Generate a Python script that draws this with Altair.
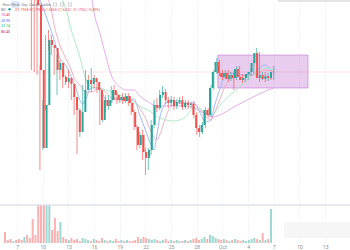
import altair as alt
import pandas as pd

START = pd.Timestamp("2021-09-05 00:00")
STEP = pd.Timedelta(hours=8)

# ---- candle data (price in cents) ----
open_c = [430, 420, 405, 380, 390, 370, 350, 330, 340, 310, 290,
          270, 230, 215, 150, 72, 115, 180, 175, 172, 150,
          157, 143, 138, 142, 136, 123, 110, 88, 108, 130,
          140, 136, 142, 138, 130, 100, 120, 114, 120, 130,
          125, 120, 123, 119, 124, 117, 108, 93, 75, 85,
          68, 62, 70, 95, 115, 112, 125, 128, 120, 117,
          120, 114, 118, 120, 113, 117, 115, 116, 105, 92,
          88, 95, 110, 105, 132, 148, 158, 147, 143, 147,
          141, 145, 142, 151, 143, 140, 142, 146, 148, 157,
          167, 142, 145, 141, 144, 142]
close_c = [420, 405, 380, 390, 370, 350, 330, 340, 310, 290, 270,
           230, 215, 150, 72, 115, 180, 175, 172, 150, 157,
           143, 138, 142, 136, 123, 110, 88, 108, 130, 140,
           136, 142, 138, 130, 100, 120, 114, 120, 130, 125,
           120, 123, 119, 124, 117, 108, 93, 75, 85, 68,
           62, 70, 95, 115, 112, 125, 128, 120, 117, 120,
           114, 118, 120, 113, 117, 115, 116, 105, 92, 88,
           95, 110, 105, 132, 148, 158, 147, 143, 147, 141,
           145, 142, 151, 143, 140, 142, 146, 148, 157, 167,
           142, 145, 141, 144, 142, 148]
high_c = [440, 430, 415, 400, 400, 380, 360, 350, 350, 320, 300,
          275, 235, 220, 155, 120, 185, 190, 185, 175, 165,
          160, 150, 145, 150, 140, 125, 115, 112, 135, 150,
          145, 152, 145, 142, 132, 122, 125, 125, 134, 135,
          128, 125, 127, 127, 127, 120, 110, 95, 88, 90,
          72, 72, 100, 120, 122, 130, 134, 131, 123, 124,
          123, 121, 123, 124, 120, 120, 118, 119, 108, 95,
          98, 113, 112, 135, 150, 162, 160, 150, 150, 150,
          148, 148, 154, 154, 146, 145, 148, 151, 160, 172,
          168, 148, 148, 147, 146, 154]
low_c = [410, 395, 370, 370, 360, 340, 320, 320, 300, 280, 262,
         150, 148, 145, 50, 70, 110, 170, 165, 145, 125,
         140, 132, 135, 132, 120, 105, 66, 83, 105, 125,
         130, 128, 132, 127, 95, 98, 108, 110, 118, 120,
         116, 117, 116, 117, 114, 105, 90, 70, 72, 60,
         45, 50, 65, 92, 108, 110, 122, 116, 112, 114,
         110, 111, 116, 110, 111, 111, 112, 102, 85, 83,
         86, 92, 102, 103, 130, 146, 144, 140, 141, 138,
         139, 130, 140, 140, 137, 138, 140, 144, 146, 155,
         138, 140, 138, 139, 140, 140]
volume = [11, 3, 4, 2, 3, 4, 3, 6, 8, 5, 24,
          8, 60, 60, 60, 45, 50, 13, 25, 12, 21,
          6, 4, 3, 5, 3, 4, 2, 5, 4, 3,
          2, 4, 3, 2, 5, 3, 2, 3, 2, 4,
          2, 3, 2, 3, 2, 2, 3, 6, 4, 6,
          5, 4, 3, 4, 3, 2, 3, 4, 2, 3,
          2, 3, 2, 2, 3, 2, 3, 4, 5, 3,
          4, 6, 4, 8, 7, 5, 4, 3, 4, 3,
          2, 3, 4, 3, 2, 3, 2, 3, 4, 5,
          4, 3, 10, 3, 4, 34]

# ---- moving averages (candle index, price in cents) ----
blue_idx = [14, 15, 17, 19, 21, 23, 25, 26, 28, 29, 32, 35, 37, 39, 40, 42, 47, 49, 51, 53,
            54, 55, 56, 58, 60, 63, 68, 70, 72, 74, 75, 77, 79, 81, 84, 89, 91, 93, 95, 96]
blue_val = [220, 213, 197, 180, 162, 155, 143, 137, 120, 116, 132, 132, 120, 117, 122, 121, 121, 105, 90, 75,
            70, 85, 102, 116, 120, 117, 117, 108, 98, 100, 112, 130, 145, 147, 145, 145, 152, 155, 150, 147]
pink_idx = [16, 18, 19, 21, 23, 25, 26, 28, 30, 32, 35, 37, 39, 42, 46, 49, 51, 53, 55, 56,
            58, 60, 63, 68, 70, 72, 74, 75, 77, 79, 81, 84, 89, 93, 96]
pink_val = [225, 210, 195, 175, 162, 150, 142, 135, 128, 128, 132, 128, 122, 120, 120, 112, 102, 88, 80, 85,
            102, 114, 117, 116, 112, 104, 100, 106, 120, 134, 141, 144, 145, 150, 148]
green_idx = [21, 23, 25, 28, 30, 32, 35, 39, 42, 46, 49, 53, 56, 61, 65, 68, 72, 74, 78, 82, 86, 89, 93, 96]
green_val = [225, 212, 190, 163, 142, 133, 132, 128, 125, 120, 114, 108, 102, 99, 103, 112, 108, 105, 118, 128,
             138, 145, 152, 150]
purple_idx = [32, 33, 35, 37, 39, 42, 44, 47, 49, 52, 55, 60, 65, 68, 72, 75, 77, 82, 88, 94, 96]
purple_val = [225, 207, 187, 165, 145, 133, 130, 130, 124, 118, 114, 114, 114, 112, 106, 103, 105, 113, 122,
              130, 132]

# ---- rectangle drawing ----
rect_start = ["2021-09-30T11:00:00"]
rect_end = ["2021-10-11T00:00:00"]
rect_low = [1.32]
rect_high = [1.65]

tick_dates = [(9, 7), (9, 10), (9, 13), (9, 16), (9, 19), (9, 22), (9, 25), (9, 28),
              (10, 1), (10, 4), (10, 7), (10, 10), (10, 13)]

UP, DOWN = "#26a69a", "#ef5350"

n = len(close_c)
df = pd.DataFrame({
    "t": [START + STEP * i for i in range(n)],
    "open": [v / 100 for v in open_c],
    "close": [v / 100 for v in close_c],
    "high": [v / 100 for v in high_c],
    "low": [v / 100 for v in low_c],
    "vol": volume,
})
df["dir"] = ["up" if c >= o else "down" for o, c in zip(df.open, df.close)]


def ma_frame(idx, val, name):
    return pd.DataFrame({"t": [START + STEP * i for i in idx],
                         "v": [v / 100 for v in val], "ma": name})


ma_df = pd.concat([
    ma_frame(blue_idx, blue_val, "blue"),
    ma_frame(pink_idx, pink_val, "pink"),
    ma_frame(green_idx, green_val, "green"),
    ma_frame(purple_idx, purple_val, "purple"),
])

rect_df = pd.DataFrame({"x1": pd.to_datetime(rect_start), "x2": pd.to_datetime(rect_end),
                        "p1": rect_low, "p2": rect_high})
last_df = pd.DataFrame({"v": [df.close.iloc[-1]]})

xs = alt.Scale(domain=[alt.DateTime(year=2021, month=9, date=5),
                       alt.DateTime(year=2021, month=10, date=15, hours=21, minutes=46)])
ps = alt.Scale(domain=[0.15, 2.20], range=[205, 0])
vs = alt.Scale(domain=[0, 38], range=[243, 205], clamp=True)
dir_color = alt.Color("dir:N", scale=alt.Scale(domain=["up", "down"], range=[UP, DOWN]), legend=None)

xaxis = alt.Axis(
    values=[alt.DateTime(year=2021, month=m, date=d) for m, d in tick_dates],
    labelExpr="date(datum.value) == 1 ? timeFormat(datum.value, '%b') : timeFormat(datum.value, '%-d')",
    labelFontSize=5, labelColor="#8a8d96", labelFont="Roboto", labelPadding=1,
    ticks=False, domain=False, grid=True, gridDash=[1, 2], gridColor="#dfe2ea", gridWidth=0.8,
    labelOverlap=False, labelBound=False, title=None,
)
X = lambda f: alt.X(f, scale=xs, axis=None)

base = alt.Chart(df)

grid_layer = base.mark_rule(opacity=0).encode(x=alt.X("t:T", scale=xs, axis=xaxis))

rect_layer = alt.Chart(rect_df).mark_rect(fill="#b04cc2", fillOpacity=0.28, stroke="#b55bc6",
                                          strokeOpacity=0.6, strokeWidth=0.8).encode(
    x=X("x1:T"), x2="x2:T",
    y=alt.Y("p1:Q", scale=ps, axis=None), y2="p2:Q")

last_layer = alt.Chart(last_df).mark_rule(color=DOWN, opacity=0.15, strokeWidth=1).encode(
    y=alt.Y("v:Q", scale=ps, axis=None))

ma_layer = alt.Chart(ma_df).mark_line(strokeWidth=0.9, clip=True, interpolate="monotone").encode(
    x=X("t:T"), y=alt.Y("v:Q", scale=ps, axis=None),
    color=alt.Color("ma:N", scale=alt.Scale(domain=["blue", "pink", "green", "purple"],
                                            range=["#94b2f7", "#f3a7bb", "#a7e8c3", "#e4a3e8"]),
                    legend=None),
    detail="ma:N")

wick_layer = base.mark_rule(strokeWidth=0.8, clip=True, opacity=0.85).encode(
    x=X("t:T"), y=alt.Y("low:Q", scale=ps, axis=None), y2="high:Q", color=dir_color)

body_layer = base.mark_bar(size=2, clip=True).encode(
    x=X("t:T"), y=alt.Y("open:Q", scale=ps, axis=None), y2="close:Q", color=dir_color)

vol_layer = base.mark_bar(size=2, clip=True, opacity=0.45).encode(
    x=X("t:T"), y=alt.Y("vol:Q", scale=vs, axis=None), y2=alt.datum(0), color=dir_color)

sep_layer = alt.Chart(pd.DataFrame({"a": [0]})).mark_rule(color="#dfe2ea", strokeWidth=1.5).encode(
    x=alt.value(0), x2=alt.value(350), y=alt.value(205))

panel_layer = alt.Chart(pd.DataFrame({"a": [0]})).mark_rect(fill="#f6f6f7", cornerRadius=2).encode(
    x=alt.value(284), x2=alt.value(350), y=alt.value(222), y2=alt.value(238))

topbar_layer = alt.Chart(pd.DataFrame({"a": [0]})).mark_rect(fill="#e3e4e8").encode(
    x=alt.value(278), x2=alt.value(350), y=alt.value(0), y2=alt.value(2))

# toolbar
tool_labels = ["Hour", "Week", "Day", "Candle", "Trades"]
tool_x = [6.5, 15.5, 24.5, 34.5, 45.5]
tool_df = pd.DataFrame({"label": tool_labels, "x": tool_x})
hl_layer = alt.Chart(pd.DataFrame({"a": [0]})).mark_rect(fill="#dde9fb", cornerRadius=1).encode(
    x=alt.value(11.5), x2=alt.value(19.5), y=alt.value(1), y2=alt.value(8))
tool_layer = alt.Chart(tool_df).mark_text(fontSize=3.6, font="Roboto", color="#7d8089").encode(
    x=alt.X("x:Q", scale=None), y=alt.value(4.8), text="label:N")
icon_df = pd.DataFrame({"x": [55, 62, 70]})
icon_layer = alt.Chart(icon_df).mark_point(shape="square", size=10, stroke="#9a9ca3", strokeWidth=0.6,
                                           filled=False).encode(
    x=alt.X("x:Q", scale=None), y=alt.value(4.5))

# legend
sym_layer = alt.Chart(pd.DataFrame({"label": ["BD"]})).mark_text(
    fontSize=3.6, font="Roboto", color="#7d8089", align="left").encode(
    x=alt.value(1), y=alt.value(9.5), text="label:N")
dot_layer = alt.Chart(pd.DataFrame({"a": [0]})).mark_point(filled=True, size=6, color=UP, opacity=1).encode(
    x=alt.value(9.5), y=alt.value(9.3))
ohlc_text = ["O1.7968  H1.7968  L1.5365  C1.6262  −0.1706 (−9.49%)"]
ohlc_layer = alt.Chart(pd.DataFrame({"label": ohlc_text})).mark_text(
    fontSize=3.6, font="Roboto", color=DOWN, align="left").encode(
    x=alt.value(15), y=alt.value(9.5), text="label:N")
ma_labels = ["15.40", "25.95", "33.74", "80.40"]
ma_colors = ["#e91e63", "#2962ff", "#1bbf6b", "#c2185b"]
ma_y = [15.3, 20.8, 26.3, 31.8]
leg_df = pd.DataFrame({"label": ma_labels, "c": ma_colors, "y": ma_y})
leg_layer = alt.Chart(leg_df).mark_text(fontSize=3.6, font="Roboto", align="left").encode(
    x=alt.value(1), y=alt.Y("y:Q", scale=None), text="label:N",
    color=alt.Color("c:N", scale=None))

chart = alt.layer(
    grid_layer, panel_layer, rect_layer, last_layer, ma_layer, wick_layer, body_layer, vol_layer,
    sep_layer, topbar_layer, hl_layer, tool_layer, icon_layer, sym_layer, dot_layer, ohlc_layer, leg_layer,
).resolve_scale(
    x="independent", y="independent", color="independent"
).properties(
    width=350, height=243, padding={"left": 0, "top": 0, "right": 0, "bottom": 7},
    autosize=alt.AutoSizeParams(type="none"), background="white",
).configure_view(stroke=None)

chart.save("out.html", embed_options={"renderer": "svg", "actions": False})
